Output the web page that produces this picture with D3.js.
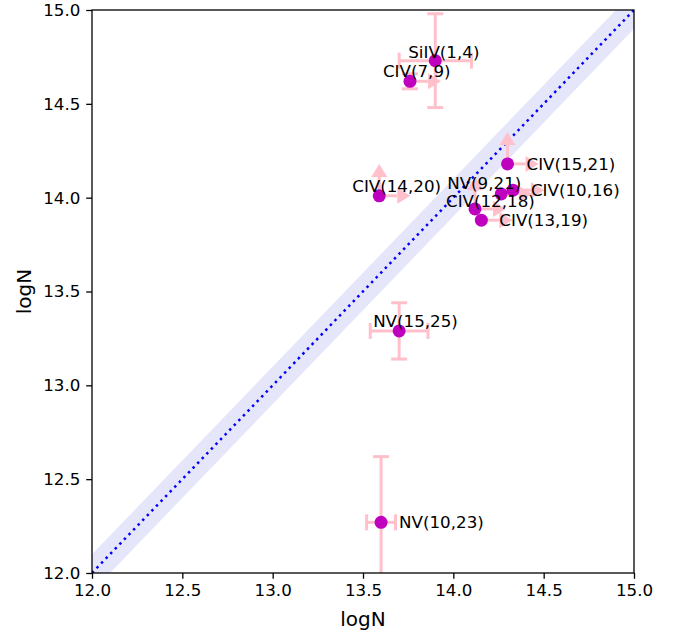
<!DOCTYPE html>
<html lang="en">
<head>
<meta charset="UTF-8">
<title>logN comparison</title>
<script src="https://d3js.org/d3.v7.min.js"></script>
<style>
  body { margin: 0; background: #fff; }
  svg text { font-family: "DejaVu Sans", sans-serif; }
  .tick text { font-size: 16.7px; fill: #000; }
  .tick line { stroke: #000; stroke-width: 1.3; }
  .domain { display: none; }
</style>
</head>
<body>
<svg id="chart" width="681" height="633"></svg>
<script>
// values
const names = ["SiIV(1,4)", "CIV(7,9)", "CIV(14,20)", "NV(9,21)", "CIV(10,16)",
               "CIV(15,21)", "CIV(12,18)", "CIV(13,19)", "NV(15,25)", "NV(10,23)"];
const xVals = [13.90, 13.76, 13.59, 14.265, 14.33, 14.30, 14.12, 14.155, 13.70, 13.60];
const yVals = [14.73, 14.62, 14.01, 14.02, 14.04, 14.18, 13.94, 13.88, 13.29, 12.27];
const xErr = [0.2, 0, 0, 0, 0, 0, 0, 0, 0.16, 0.08];
const yErr = [0.25, 0.04, 0, 0, 0, 0, 0, 0, 0.15, 0.35];
// lower limits drawn as arrows of length 0.1
const xLower = [false, true, true, true, true, true, true, true, false, false];
const yLower = [false, false, true, false, false, true, true, false, false, false];
const limLen = 0.1;
// label offsets (pixels) relative to the point
const labelDx = [-27, -27, -27, -54, 18, 19, -29, 18, -26, 18];
const labelDy = [-3, -4, -4, -5, 6, 6, -2, 6, -4, 6];

const ticks = [12.0, 12.5, 13.0, 13.5, 14.0, 14.5, 15.0];
const domain = [12, 15];
const bandHalf = 0.1;

const svg = d3.select("#chart");
const mLeft = 92, mRight = 634, mTop = 10, mBottom = 573;

const x = d3.scaleLinear().domain(domain).range([mLeft, mRight]);
const y = d3.scaleLinear().domain(domain).range([mBottom, mTop]);

svg.append("clipPath").attr("id", "clip")
  .append("rect").attr("x", mLeft).attr("y", mTop)
  .attr("width", mRight - mLeft).attr("height", mBottom - mTop);

const plot = svg.append("g").attr("clip-path", "url(#clip)");

// shaded band around the 1:1 line
const bandX = [11.8, 15.2];
const bandPts = bandX.map(v => [x(v), y(v + bandHalf)])
  .concat(bandX.slice().reverse().map(v => [x(v), y(v - bandHalf)]));
plot.append("polygon")
  .attr("points", bandPts.map(p => p.join(",")).join(" "))
  .attr("fill", "#e6e6fb");

// 1:1 line
plot.append("line")
  .attr("x1", x(domain[0])).attr("y1", y(domain[0]))
  .attr("x2", x(domain[1])).attr("y2", y(domain[1]))
  .attr("stroke", "#0000ff").attr("stroke-width", 2.5)
  .attr("stroke-dasharray", "2.5,4.1");

const pink = "#ffc0cb";
const capHalf = 8;

names.forEach((name, i) => {
  const g = plot.append("g");
  const cx = x(xVals[i]), cy = y(yVals[i]);
  const line = (x1, y1, x2, y2) => g.append("line")
    .attr("x1", x1).attr("y1", y1).attr("x2", x2).attr("y2", y2)
    .attr("stroke", pink).attr("stroke-width", 3);

  if (xErr[i] > 0) {
    const a = x(xVals[i] - xErr[i]), b = x(xVals[i] + xErr[i]);
    line(a, cy, b, cy);
    line(a, cy - capHalf, a, cy + capHalf);
    line(b, cy - capHalf, b, cy + capHalf);
  }
  if (yErr[i] > 0) {
    const a = y(yVals[i] - yErr[i]), b = y(yVals[i] + yErr[i]);
    line(cx, a, cx, b);
    line(cx - capHalf, a, cx + capHalf, a);
    line(cx - capHalf, b, cx + capHalf, b);
  }
  if (xLower[i]) {
    const b = x(xVals[i] + limLen);
    line(cx, cy, b, cy);
    g.append("path")
      .attr("d", `M${b},${cy - 8}L${b + 13},${cy}L${b},${cy + 8}Z`)
      .attr("fill", pink);
  }
  if (yLower[i]) {
    const b = y(yVals[i] + limLen);
    line(cx, cy, cx, b);
    g.append("path")
      .attr("d", `M${cx - 8},${b}L${cx},${b - 13}L${cx + 8},${b}Z`)
      .attr("fill", pink);
  }
  g.append("circle")
    .attr("cx", cx).attr("cy", cy).attr("r", 6.5)
    .attr("fill", "#bf00bf");
});

// labels on top
svg.append("g").selectAll("text")
  .data(names)
  .join("text")
  .attr("x", (d, i) => x(xVals[i]) + labelDx[i])
  .attr("y", (d, i) => y(yVals[i]) + labelDy[i])
  .attr("font-size", "16.7px")
  .attr("fill", "#000")
  .text(d => d);

// axes
svg.append("g")
  .attr("transform", `translate(0,${mBottom})`)
  .call(d3.axisBottom(x).tickValues(ticks).tickFormat(d3.format(".1f"))
    .tickSizeInner(5.8).tickPadding(5.8));
svg.append("g")
  .attr("transform", `translate(${mLeft},0)`)
  .call(d3.axisLeft(y).tickValues(ticks).tickFormat(d3.format(".1f"))
    .tickSizeInner(5.8).tickPadding(5.8));

svg.append("rect")
  .attr("x", mLeft).attr("y", mTop)
  .attr("width", mRight - mLeft).attr("height", mBottom - mTop)
  .attr("fill", "none").attr("stroke", "#000").attr("stroke-width", 1.3);

svg.append("text")
  .attr("x", (mLeft + mRight) / 2).attr("y", 626)
  .attr("text-anchor", "middle").attr("font-size", "20px")
  .text("logN");
svg.append("text")
  .attr("transform", `translate(31,${(mTop + mBottom) / 2}) rotate(-90)`)
  .attr("text-anchor", "middle").attr("font-size", "20px")
  .text("logN");
</script>
</body>
</html>
